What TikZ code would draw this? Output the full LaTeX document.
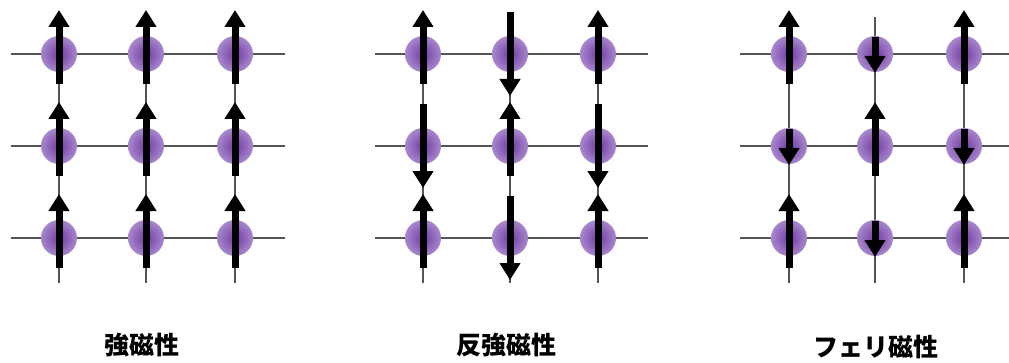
\documentclass[tikz,border=0pt]{standalone}
\usepackage{fontspec}
\newfontfamily\jpfont{Noto Sans CJK JP}
\usetikzlibrary{arrows.meta, positioning, backgrounds}

\definecolor{atomcore}{RGB}{112,58,165}
\definecolor{atomrim}{RGB}{168,135,204}
\definecolor{gridline}{RGB}{85,85,85}

\begin{document}
\begin{tikzpicture}[
  x=1pt, y=1pt,
  atom/.style={
    circle, minimum size=36pt, inner sep=0pt,
    inner color=atomcore, outer color=atomrim
  },
  bond/.style={draw=gridline, line width=1.3pt},
  spin/.style={-{Triangle[width=20pt,length=17pt]}, line width=7pt, black},
  title/.style={font=\jpfont\bfseries\fontsize{25}{25}\selectfont}
]
  \useasboundingbox (0,0) rectangle (1009,362);

  % Atoms
  \foreach \x/\c in {59/a, 146/b, 235/c}
    \foreach \y/\r in {308/1, 216/2, 124/3}
      \node[atom] (fm-\c\r) at (\x,\y) {};
  \foreach \x/\c in {423/a, 510/b, 598/c}
    \foreach \y/\r in {308/1, 216/2, 124/3}
      \node[atom] (afm-\c\r) at (\x,\y) {};
  \foreach \x/\c in {789/a, 875/b, 964/c}
    \foreach \y/\r in {308/1, 216/2, 124/3}
      \node[atom] (fi-\c\r) at (\x,\y) {};

  % Lattice
  \begin{scope}[on background layer]
    \foreach \r in {1,2,3} {
      \draw[bond] ([xshift=-48pt]fm-a\r.center) -- ([xshift=50pt]fm-c\r.center);
      \draw[bond] ([xshift=-48pt]afm-a\r.center) -- ([xshift=50pt]afm-c\r.center);
      \draw[bond] ([xshift=-49pt]fi-a\r.center) -- ([xshift=45pt]fi-c\r.center);
    }
    \foreach \c in {a,b,c} {
      \draw[bond] ([yshift=37pt]fm-\c1.center) -- ([yshift=-45pt]fm-\c3.center);
      \draw[bond] ([yshift=37pt]afm-\c1.center) -- ([yshift=-45pt]afm-\c3.center);
      \draw[bond] ([yshift=37pt]fi-\c1.center) -- ([yshift=-45pt]fi-\c3.center);
    }
  \end{scope}

  % Spins
  \foreach \n in {fm-a1,fm-b1,fm-c1,fm-a2,fm-b2,fm-c2,fm-a3,fm-b3,fm-c3,
                  afm-a1,afm-c1,afm-b2,afm-a3,afm-c3,
                  fi-a1,fi-c1,fi-b2,fi-a3,fi-c3}
    \draw[spin] ([yshift=-30pt]\n.center) -- ([yshift=44pt]\n.center);
  \foreach \n in {afm-b1,afm-a2,afm-c2,afm-b3}
    \draw[spin] ([yshift=42pt]\n.center) -- ([yshift=-42pt]\n.center);
  \foreach \n in {fi-b1,fi-a2,fi-c2,fi-b3}
    \draw[spin] ([yshift=17pt]\n.center) -- ([yshift=-19pt]\n.center);

  % Labels
  \node[title] (ferro)  at (142,17) {強磁性};
  \node[title] (antife) at (506,17) {反強磁性};
  \node[title] (ferri)  at (876,15) {フェリ磁性};
\end{tikzpicture}
\end{document}
